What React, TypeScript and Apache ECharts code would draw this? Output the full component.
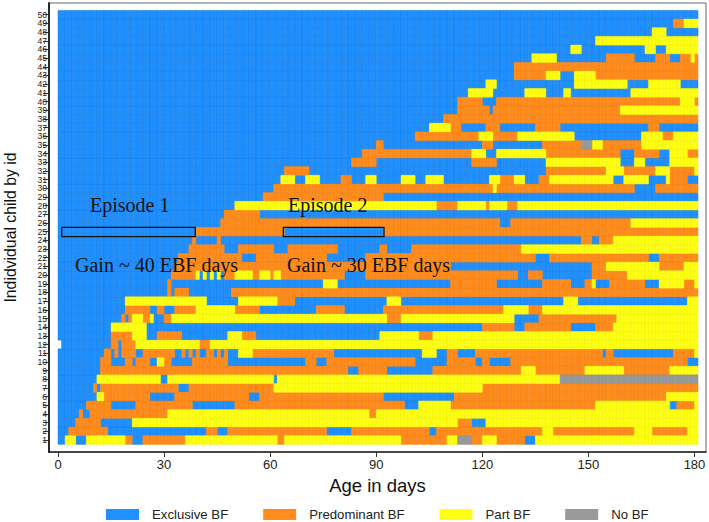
import React, { useEffect, useRef } from "react";
import * as echarts from "echarts";

// Breastfeeding state runs per child: letter = state, number = first day of the run.
// E = Exclusive, P = Predominant, Y = Part, N = No BF
const child01 = "E0 Y2 E5 Y8 P19 E21 P24 Y36 P62 Y64 P97 Y110 N113 P117 Y120 P124 E132 Y135";
const child02 = "E0 P3 E14 P42 E45 P48 E76 P83 E105 P107 Y137 P140 Y163 P168 Y178";
const child03 = "E0 P5 E12 Y21 P113 E117 Y121";
const child04 = "E0 P6 E7 P9 Y31 P88 Y90";
const child05 = "E0 P8 E15 P22 E38 P50 E98 Y102 P111 Y152 E173 P175 Y180";
const child06 = "E0 Y11 P13 E26 P33 E54 P57 E92 P112 Y172";
const child07 = "E0 P10 E11 P12 E34 P37 Y61 P120";
const child08 = "E0 Y11 E29 Y31 E61 Y62 N142";
const child09 = "E0 P12 E82 P85 E93 P106 Y131 P135 Y149 P160 Y173";
const child10 = "E0 P12 E15 P19 E21 P22 E26 Y28 P30 E32 P38 E48 P70 E73 P76 E101 P110 E118 P120 E122 P128 E178";
const child11 = "E0 P13 E15 P16 E17 P18 E22 P24 E33 P35 E36 P37 E38 P39 E40 P42 E44 P45 E46 P47 E48 Y51 P55 E78 Y103 E107 P110 E113 P118 E154 P155 E157 P174 Y180";
const child12 = "E1 P15 E17 P18 Y22 P40 Y43";
const child13 = "E0 P15 Y21 E25 P28 E35 Y48 P52 E56 Y91 P102 Y106";
const child14 = "E0 Y15 E25 P120 E129 P132 E145 P152 Y157";
const child15 = "E0 P18 E19 P20 Y21 P24 Y26 E27 P30 Y32 P93 Y97 E129 P136 Y158";
const child16 = "E0 P19 E26 P28 E30 P33 Y39 P50 E57 P73 E81 P92 Y126 P133 Y137";
const child17 = "E0 Y19 E42 Y51 P62 E67 Y93 E97 Y143 E147 Y178";
const child18 = "E0 P31 E32 P33 E37 P49";
const child19 = "E0 P31 E32 Y75 E79 P111 E124 P137 E145 P149 Y151 E152 P156 E166 Y170 P177 Y180";
const child20 = "E0 P32 Y39 E40 Y41 E42 Y43 E44 Y45 E46 P47 Y50 P55 Y57 P60 Y61 P63 E81 P87 E130 P133 E137 P151 Y161";
const child21 = "E0 P33 E111 P151 Y155 P170 Y177";
const child22 = "E0 P34 E52 P56 E76 P87 E135 P139 E167 P170";
const child23 = "E0 P37 E47 P51 E61 P65 E79 P91 E93 P100 Y131";
const child24 = "E0 P38 E39 P45 E46 P148 E151 P153 Y157";
const child25 = "E0 P39 E64 P92";
const child26 = "E0 P46 E125 P128 Y162";
const child27 = "E0 P47 E57";
const child28 = "E0 Y50 P107 Y113 P121 Y122 P127 Y130";
const child29 = "E0 P58 E92";
const child30 = "E0 P61 Y123 P124 E163 P169";
const child31 = "E0 Y63 E67 Y70 E74 P80 E83 Y87 E90 Y97 E101 Y104 E109 Y122 P125 Y129 E132 P136 Y139 E157 Y160 E167 Y172 P173 E178";
const child32 = "E0 P64 E71 P138 Y155 P160 Y169 P173 Y180";
const child33 = "E0 P83 E90 P117 E124 Y138 E159 Y163 E166 Y173";
const child34 = "E0 P86 Y117 E121 Y124 P138 E159 P163 E170 Y173 P178";
const child35 = "E0 P90 E92 P120 E123 P137 N148 Y151 P154 Y165";
const child36 = "E0 P101 Y119 P123 Y130 E146 Y165 P171 Y174";
const child37 = "E0 Y105 P111 E114 P121 E125 P135 E142 P167 E170";
const child38 = "E0 P109";
const child39 = "E0 P113 E122 P123 Y159";
const child40 = "E0 P113 E120 P124 Y176 P180";
const child41 = "E0 Y116 E123 Y132 E138 Y143 E145 Y162";
const child42 = "E0 Y121 E124 Y146 E161 Y167 E176";
const child43 = "E0 P129 Y138 E142 Y146 P152";
const child44 = "E0 P129";
const child45 = "E0 Y134 E141 P155 E163 P169 E173 P176 Y179 P180";
const child46 = "E0 Y145 E148 Y166 E169 Y172";
const child47 = "E0 Y152";
const child48 = "E0 Y168 E172";
const child49 = "E0 P174 Y177";
const child50 = "E0";

const children = [
  child01, child02, child03, child04, child05, child06, child07, child08, child09, child10,
  child11, child12, child13, child14, child15, child16, child17, child18, child19, child20,
  child21, child22, child23, child24, child25, child26, child27, child28, child29, child30,
  child31, child32, child33, child34, child35, child36, child37, child38, child39, child40,
  child41, child42, child43, child44, child45, child46, child47, child48, child49, child50,
];

const LAST_DAY = 180;
const dayTicks = [0, 30, 60, 90, 120, 150, 180];
const idTicks = children.map((_, i) => i + 1);
const oddIds = idTicks.filter((v) => v % 2 === 1);
const evenIds = idTicks.filter((v) => v % 2 === 0);

const states = [
  { code: "E", name: "Exclusive BF", fill: "#1E90FF", edge: "#1A7FE6" },
  { code: "P", name: "Predominant BF", fill: "#FF8C1C", edge: "#F07F10" },
  { code: "Y", name: "Part BF", fill: "#FFFF14", edge: "#F0F000" },
  { code: "N", name: "No BF", fill: "#999999", edge: "#8A8A8A" },
];

function cellsFor(code: string): number[][] {
  const out: number[][] = [];
  children.forEach((row, i) => {
    const runs = row.split(" ").map((r) => ({ s: r[0], d: Number(r.slice(1)) }));
    runs.forEach((run, k) => {
      const end = k + 1 < runs.length ? runs[k + 1].d : LAST_DAY + 1;
      if (run.s === code) for (let d = run.d; d < end; d++) out.push([d, i + 1]);
    });
  });
  return out;
}

const serif = "'Liberation Serif', serif";
const sans = "'Liberation Sans', Arial, sans-serif";

function note(text: string, x: number, y: number) {
  return {
    type: "text", x, y, z: 100,
    style: { text, fill: "#111", font: `20px ${serif}`, textVerticalAlign: "middle" },
  };
}
function box(x: number, y: number, width: number, height: number) {
  return {
    type: "rect", z: 100, shape: { x, y, width, height },
    style: { fill: "transparent", stroke: "#111", lineWidth: 1.3 },
  };
}

export default function App() {
  const ref = useRef<HTMLDivElement>(null);
  useEffect(() => {
    const chart = echarts.init(ref.current!, null, { renderer: "svg" });
    const idAxis = (ids: number[]) => ({
      type: "value", position: "left", min: -0.38, max: 51.35,
      axisLine: { show: true, onZero: false, lineStyle: { color: "#222", width: 1.6 } },
      axisTick: { show: true, length: 6, customValues: ids, lineStyle: { color: "#333" } },
      axisLabel: { customValues: ids, margin: 2, fontFamily: sans, fontSize: 8.6, color: "#222" },
      splitLine: { show: false },
    });
    chart.setOption({
      animation: false,
      backgroundColor: "#fff",
      grid: {
        left: 49, right: 3, top: 3, bottom: 70, show: true, borderColor: "#666", borderWidth: 1,
        outerBoundsMode: "none", containLabel: false,
      },
      xAxis: {
        type: "value", min: -2.55, max: 183.26,
        name: "Age in days", nameLocation: "middle", nameGap: 22,
        nameTextStyle: { fontFamily: sans, fontSize: 18.5, color: "#111" },
        axisLine: { show: true, onZero: false, lineStyle: { color: "#222", width: 1.6 } },
        axisTick: { show: true, length: 5, customValues: dayTicks, lineStyle: { color: "#333" } },
        axisLabel: { customValues: dayTicks, margin: 6, fontFamily: sans, fontSize: 13, color: "#222" },
        splitLine: { show: false },
      },
      yAxis: [
        {
          ...idAxis(oddIds),
          name: "Indidvidual child by id", nameLocation: "middle", nameGap: 31,
          nameTextStyle: { fontFamily: sans, fontSize: 15.8, color: "#111" },
        },
        idAxis(evenIds),
      ],
      legend: {
        left: 101, top: 503, itemWidth: 33, itemHeight: 11, itemGap: 35, icon: "rect",
        data: states.map((s) => s.name),
        textStyle: { fontFamily: sans, fontSize: 13.2, color: "#222", padding: [0, 0, 0, 8] },
      },
      series: states.map((s) => ({
        type: "custom",
        name: s.name,
        silent: true,
        progressive: 0,
        itemStyle: { color: s.fill },
        encode: { x: 0, y: 1 },
        data: cellsFor(s.code),
        renderItem: (_: any, api: any) => {
          const a = api.coord([api.value(0), api.value(1) - 0.5]);
          const b = api.coord([api.value(0) + 1, api.value(1) + 0.5]);
          return {
            type: "rect",
            shape: { x: a[0], y: b[1], width: b[0] - a[0], height: a[1] - b[1] },
            style: { fill: s.fill, stroke: s.edge, lineWidth: 0.5 },
          };
        },
      })),
      graphic: [
        box(61.7, 227.3, 133.6, 9.4),
        box(283.3, 227.3, 100.7, 9.4),
        note("Episode 1", 90, 205),
        note("Episode 2", 288, 205),
        note("Gain ~ 40 EBF days", 75, 265),
        note("Gain ~ 30 EBF days", 287, 265),
      ],
    });
    return () => chart.dispose();
  }, []);
  return <div ref={ref} style={{ position: "absolute", left: 0, top: 0, width: 709, height: 522 }} />;
}
